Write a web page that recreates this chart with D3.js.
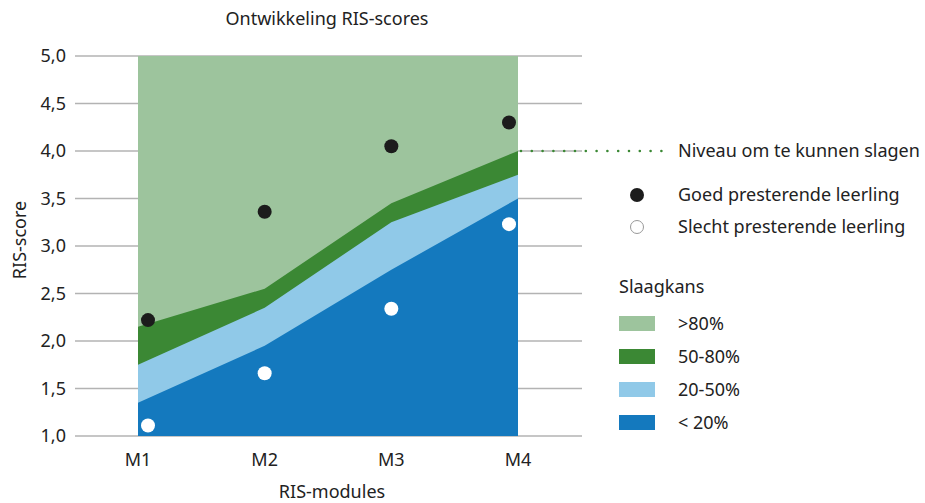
<!DOCTYPE html>
<html>
<head>
<meta charset="utf-8">
<script src="https://cdn.jsdelivr.net/npm/d3@7"></script>
<style>
  body { margin: 0; background: #fff; }
  text { font-family: "Noto Sans", "Open Sans", sans-serif; fill: #222; font-size: 18px; }
</style>
</head>
<body>
<script>
const w = 925;
const h = 503;

// data
const modules = ['M1', 'M2', 'M3', 'M4'];
const yTicks = [1.0, 1.5, 2.0, 2.5, 3.0, 3.5, 4.0, 4.5, 5.0];
const bandTop80 = [5.0, 5.0, 5.0, 5.0];      // >80%
const bandTop50 = [2.15, 2.55, 3.45, 4.0];   // 50-80%
const bandTop20 = [1.75, 2.35, 3.25, 3.75];  // 20-50%
const bandTop0 = [1.35, 1.95, 2.75, 3.5];    // < 20%
const goodStudent = [2.22, 3.36, 4.05, 4.30];
const weakStudent = [1.11, 1.66, 2.34, 3.23];
const passLevel = 4.0;
const bandLabels = ['>80%', '50-80%', '20-50%', '< 20%'];
const bandColors = ['#9dc49d', '#3b8834', '#90c9e8', '#1479be'];

const svg = d3.select('body')
  .append('svg')
  .attr('width', w)
  .attr('height', h);

const x = d3.scalePoint()
  .domain(modules)
  .range([138, 518]);

const y = d3.scaleLinear()
  .domain([1, 5])
  .range([436, 56]);

// gridlines
svg.selectAll('line.grid')
  .data(yTicks)
  .enter()
  .append('line')
  .attr('class', 'grid')
  .attr('x1', 75)
  .attr('x2', 582)
  .attr('y1', d => y(d))
  .attr('y2', d => y(d))
  .style('stroke', '#b3b3b3')
  .style('stroke-width', 1.5);

// y tick labels
svg.selectAll('text.ytick')
  .data(yTicks)
  .enter()
  .append('text')
  .attr('class', 'ytick')
  .attr('x', 66)
  .attr('y', d => y(d))
  .attr('dy', '0.35em')
  .attr('text-anchor', 'end')
  .text(d => d3.format('.1f')(d).replace('.', ','));

// bands, drawn top down so each lower one covers the previous
const area = d3.area()
  .x((d, i) => x(modules[i]))
  .y0(y(1))
  .y1(d => y(d));

const bands = [bandTop80, bandTop50, bandTop20, bandTop0];
svg.selectAll('path.band')
  .data(bands)
  .enter()
  .append('path')
  .attr('class', 'band')
  .attr('d', d => area(d))
  .style('fill', (d, i) => bandColors[i]);

// pass level dotted line
const x0 = x(modules[modules.length - 1]);
svg.append('line')
  .attr('x1', x0 + 3)
  .attr('x2', 672)
  .attr('y1', y(passLevel))
  .attr('y2', y(passLevel))
  .style('stroke', '#3b8834')
  .style('stroke-width', 2.6)
  .style('stroke-linecap', 'round')
  .style('stroke-dasharray', '0 10.8');

svg.append('text')
  .attr('x', 678)
  .attr('y', y(passLevel))
  .attr('dy', '0.35em')
  .text('Niveau om te kunnen slagen');

// student dots, kept inside the band area
const r = 7;
const left = x(modules[0]);
const right = x(modules[modules.length - 1]);
const clampX = v => Math.min(Math.max(v, left + r + 3), right - r - 2);

svg.selectAll('circle.good')
  .data(goodStudent)
  .enter()
  .append('circle')
  .attr('class', 'good')
  .attr('cx', (d, i) => clampX(x(modules[i])))
  .attr('cy', d => y(d))
  .attr('r', r)
  .style('fill', '#1c1c1c');

svg.selectAll('circle.weak')
  .data(weakStudent)
  .enter()
  .append('circle')
  .attr('class', 'weak')
  .attr('cx', (d, i) => clampX(x(modules[i])))
  .attr('cy', d => y(d))
  .attr('r', r)
  .style('fill', '#fff');

// x labels
svg.selectAll('text.xtick')
  .data(modules)
  .enter()
  .append('text')
  .attr('class', 'xtick')
  .attr('x', d => x(d))
  .attr('y', 460)
  .attr('dy', '0.35em')
  .attr('text-anchor', 'middle')
  .text(d => d);

// titles
svg.append('text')
  .attr('x', 327)
  .attr('y', 19)
  .attr('dy', '0.35em')
  .attr('text-anchor', 'middle')
  .text('Ontwikkeling RIS-scores');

svg.append('text')
  .attr('x', 332)
  .attr('y', 492)
  .attr('dy', '0.35em')
  .attr('text-anchor', 'middle')
  .text('RIS-modules');

svg.append('text')
  .attr('transform', 'translate(20,' + 240 + ') rotate(-90)')
  .attr('dy', '0.35em')
  .attr('text-anchor', 'middle')
  .text('RIS-score');

// legend: students
const dotLegend = [
  { label: 'Goed presterende leerling', fill: '#1c1c1c', stroke: 'none' },
  { label: 'Slecht presterende leerling', fill: '#fff', stroke: '#999' }
];
const dl = svg.selectAll('g.dotleg')
  .data(dotLegend)
  .enter()
  .append('g')
  .attr('class', 'dotleg')
  .attr('transform', (d, i) => 'translate(637,' + (195 + i * 32) + ')');
dl.append('circle')
  .attr('r', d => d.stroke === 'none' ? r : r - 0.5)
  .style('fill', d => d.fill)
  .style('stroke', d => d.stroke)
  .style('stroke-width', 1);
dl.append('text')
  .attr('x', 41)
  .attr('dy', '0.35em')
  .text(d => d.label);

// legend: bands
svg.append('text')
  .attr('x', 619)
  .attr('y', 287)
  .attr('dy', '0.35em')
  .text('Slaagkans');

const bl = svg.selectAll('g.bandleg')
  .data(bandLabels)
  .enter()
  .append('g')
  .attr('class', 'bandleg')
  .attr('transform', (d, i) => 'translate(619,' + (316 + i * 33) + ')');
bl.append('rect')
  .attr('width', 36)
  .attr('height', 15)
  .style('fill', (d, i) => bandColors[i]);
bl.append('text')
  .attr('x', 59)
  .attr('y', 7.5)
  .attr('dy', '0.35em')
  .text(d => d);
</script>
</body>
</html>
